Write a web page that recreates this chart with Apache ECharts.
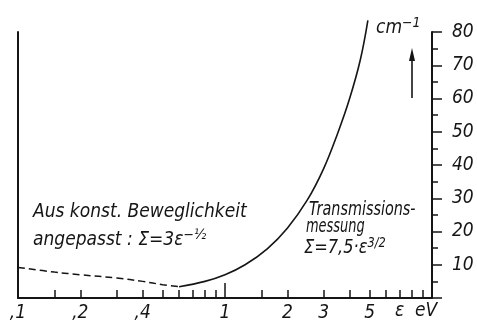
<!DOCTYPE html>
<html><head><meta charset="utf-8">
<script src="https://cdn.jsdelivr.net/npm/echarts@6/dist/echarts.min.js"></script>
<style>html,body{margin:0;padding:0;background:#fff}#c{width:477px;height:331px}</style>
</head><body><div id="c"></div>
<script>
// Transmissionsmessung (solid curve)
const transEnergy = [0.6, 0.8, 1.0, 1.25, 1.6, 2.0, 2.5, 3.0, 3.5, 4.0, 4.5, 4.9];
const transSigma  = [3.4, 5.0, 7.0, 10, 14.8, 21, 29.5, 39, 49.5, 60, 71.5, 83.5];
// Aus konst. Beweglichkeit angepasst (dashed curve)
const mobEnergy = [0.1, 0.15, 0.2, 0.3, 0.4, 0.5, 0.6];
const mobSigma  = [9.2, 7.8, 7.0, 6.0, 5.0, 4.0, 3.4];
// axis ticks / labels
const xTickValues = [0.15, 0.2, 0.3, 0.4, 0.5, 0.6, 0.7, 0.8, 0.9, 1.5, 2, 3, 4, 5, 6, 7, 8, 9];
const xMajorTick = [1];
const xLabelValues = [0.1, 0.2, 0.4, 1, 2, 3, 5];
const xLabelTexts = [',1', ',2', ',4', '1', '2', '3', '5'];
const yTickValues = [0, 10, 20, 30, 40, 50, 60, 70, 80];
const yTickLabels = ['', '10', '20', '30', '40', '50', '60', '70', '80'];

const FONT = '"Liberation Sans Narrow","DejaVu Sans Condensed","Liberation Sans",sans-serif';
const INK = '#151515';

function xLabel(v) {
  let best = 0, d = Infinity;
  xLabelValues.forEach((x, i) => { const dd = Math.abs(Math.log(x) - Math.log(v)); if (dd < d) { d = dd; best = i; } });
  return xLabelTexts[best];
}
function yLabel(v) {
  const i = yTickValues.indexOf(Math.round(v));
  return i >= 0 ? yTickLabels[i] : '';
}

const chart = echarts.init(document.getElementById('c'), null, {renderer: 'canvas'});
const lblStyle = {fontFamily: FONT, fontStyle: 'italic', fontSize: 19, color: INK};
chart.setOption({
  animation: false,
  backgroundColor: '#fff',
  grid: {left: 18, right: 45, top: 32, bottom: 33, containLabel: false},
  xAxis: [{
    type: 'log', logBase: 10, min: 0.1, max: 10, position: 'bottom', offset: 0,
    axisLine: {show: true, lineStyle: {color: INK, width: 2}},
    axisTick: {show: true, inside: true, length: 8, customValues: xTickValues, lineStyle: {color: INK, width: 1.5}},
    minorTick: {show: false},
    axisLabel: Object.assign({show: true, customValues: xLabelValues, formatter: xLabel, margin: 6}, lblStyle),
    splitLine: {show: false}
  }, {
    type: 'log', logBase: 10, min: 0.1, max: 10, position: 'bottom', offset: 0,
    axisLine: {show: false},
    axisTick: {show: true, inside: true, length: 15, customValues: xMajorTick, lineStyle: {color: INK, width: 1.5}},
    axisLabel: {show: false},
    splitLine: {show: false}
  }],
  yAxis: [{
    type: 'value', position: 'right', min: 0, max: 80, interval: 10, offset: 0,
    axisLine: {show: true, lineStyle: {color: INK, width: 2}},
    axisTick: {show: true, inside: false, length: 10, lineStyle: {color: INK, width: 1.5}},
    minorTick: {show: true, splitNumber: 2, length: 6, lineStyle: {color: INK, width: 1.5}},
    axisLabel: Object.assign({show: true, formatter: yLabel, margin: 20}, lblStyle),
    splitLine: {show: false}, minorSplitLine: {show: false}
  }, {
    type: 'value', position: 'left', min: 0, max: 80, offset: 0,
    axisLine: {show: true, lineStyle: {color: INK, width: 2}},
    axisTick: {show: false}, axisLabel: {show: false}, splitLine: {show: false}
  }],
  series: [{
    type: 'line', xAxisIndex: 0, yAxisIndex: 0, smooth: 0.4, showSymbol: false, clip: false,
    data: transEnergy.map((e, i) => [e, transSigma[i]]),
    lineStyle: {color: INK, width: 1.6}
  }, {
    type: 'line', xAxisIndex: 0, yAxisIndex: 0, smooth: 0.4, showSymbol: false, clip: false,
    data: mobEnergy.map((e, i) => [e, mobSigma[i]]),
    lineStyle: {color: INK, width: 1.5, type: [7, 4]}
  }],
  graphic: [
    {type: 'text', left: 33, top: 203, style: {text: 'Aus konst. Beweglichkeit', font: 'italic 19px ' + FONT, fill: INK}},
    {type: 'text', left: 33, top: 228, style: {
      text: '{a|angepasst : Σ=3ε}{s|−½}',
      rich: {a: {font: 'italic 19px ' + FONT, color: INK}, s: {font: 'italic 14px ' + FONT, color: INK, padding: [0, 0, 10, 0]}},
      fill: INK}},
    {type: 'text', x: 309, y: 200, scaleX: 0.8, style: {text: 'Transmissions-', font: 'italic 20px ' + FONT, fill: INK}},
    {type: 'text', x: 306, y: 217, scaleX: 0.72, style: {text: 'messung', font: 'italic 20px ' + FONT, fill: INK}},
    {type: 'text', x: 304, y: 236, scaleX: 0.9, style: {
      text: '{a|Σ=7,5·ε}{s|3/2}',
      rich: {a: {font: 'italic 20px ' + FONT, color: INK}, s: {font: 'italic 14px ' + FONT, color: INK, padding: [0, 0, 10, 0]}},
      fill: INK}},
    {type: 'text', left: 376, top: 16, style: {
      text: '{a|cm}{s|−1}',
      rich: {a: {font: 'italic 19px ' + FONT, color: INK}, s: {font: 'italic 14px ' + FONT, color: INK, padding: [0, 0, 10, 0]}},
      fill: INK}},
    {type: 'text', left: 395, top: 302, style: {text: 'ε  eV', font: 'italic 19px ' + FONT, fill: INK}},
    {type: 'line', shape: {x1: 412, y1: 98, x2: 412, y2: 58}, style: {stroke: INK, lineWidth: 1.6}},
    {type: 'polygon', shape: {points: [[409, 61], [412, 48], [415, 61]]}, style: {fill: INK}}
  ]
});
</script>
</body></html>
